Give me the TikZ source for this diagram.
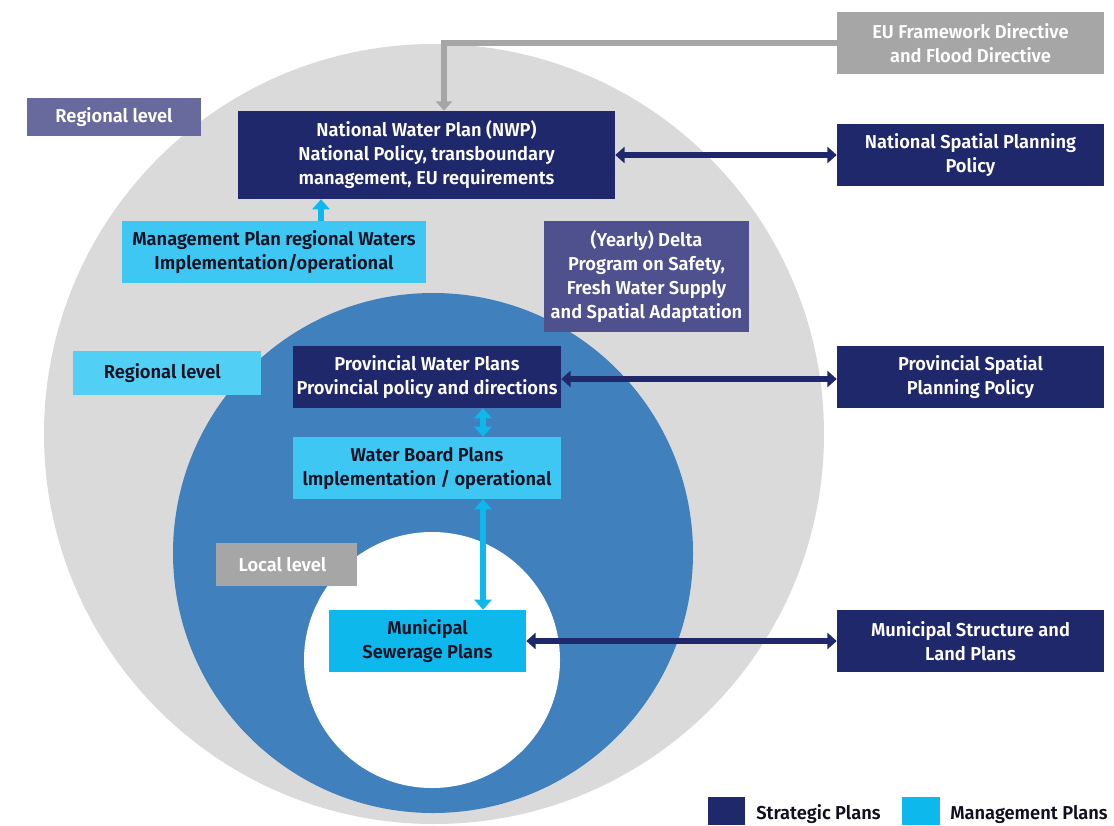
\documentclass[tikz,border=0pt]{standalone}
\usepackage{fontspec}
\newfontfamily\lab{Fira Sans SemiBold}[FakeStretch=0.98]
\usetikzlibrary{arrows.meta,calc}
\definecolor{navy}{RGB}{32,40,108}
\definecolor{circgray}{RGB}{218,218,218}
\definecolor{circblue}{RGB}{64,128,189}
\definecolor{lblue}{RGB}{61,199,242}
\definecolor{lblueb}{RGB}{82,207,244}
\definecolor{mblue}{RGB}{13,184,236}
\definecolor{purp}{RGB}{104,106,158}
\definecolor{delta}{RGB}{78,81,142}
\definecolor{boxgray}{RGB}{166,166,166}
\definecolor{darktxt}{RGB}{16,16,32}
\tikzset{
  box/.style={rectangle, inner sep=0pt, align=center,
    font=\lab\fontsize{14}{18}\selectfont},
  strat/.style={box, fill=navy, text=white},
  mgmt/.style={box, fill=lblue, text=darktxt},
  navyarrow/.style={draw=navy, line width=4.5pt,
    {Triangle[width=12pt,length=7pt]}-{Triangle[width=12pt,length=7pt]}},
  bluearrow/.style={draw=mblue, line width=4.5pt,
    {Triangle[width=12.75pt,length=7.5pt]}-{Triangle[width=12.75pt,length=7.5pt]}},
  bluearrowone/.style={draw=mblue, line width=4.5pt,
    -{Triangle[width=12.75pt,length=7.5pt]}},
  grayarrow/.style={draw=boxgray, line width=4.5pt,
    -{Triangle[width=12pt,length=7pt]}},
  legtxt/.style={anchor=base west, inner sep=0pt, text=darktxt,
    font=\lab\fontsize{14}{18}\selectfont}
}
\begin{document}
\begin{tikzpicture}[x=0.75pt,y=-0.75pt]
\useasboundingbox (0,0) rectangle (1114,825);
\fill[white] (0,0) rectangle (1114,825);
% circles
\fill[circgray] (434,434) circle[radius=390];
\fill[circblue] (433,553) circle[radius=260];
\fill[white] (432,660) circle[radius=128];
% boxes
\node[box, fill=boxgray, text=white, minimum width=200.25pt, minimum height=46.5pt] (EU) at (970.5,43) {EU Framework Directive\\and Flood Directive};
\node[strat, minimum width=200.25pt, minimum height=46.5pt] (NSP) at (970.5,155) {National Spatial Planning\\Policy};
\node[box, fill=purp, text=white, minimum width=130.5pt, minimum height=28.5pt] (R1) at (114,117) {Regional level};
\node[strat, minimum width=282.75pt, minimum height=66pt] (NWP) at (426.5,155) {National Water Plan (NWP)\\National Policy, transboundary\\management, EU requirements};
\node[mgmt, minimum width=228pt, minimum height=46.5pt] (MPR) at (274,252) {Management Plan regional Waters\\Implementation/operational};
\node[box, fill=delta, text=white, minimum width=153.75pt, minimum height=83.25pt] (DP) at (646.5,276.5) {(Yearly) Delta\\Program on Safety,\\Fresh Water Supply\\and Spatial Adaptation};
\node[box, fill=lblueb, text=darktxt, minimum width=141pt, minimum height=33pt] (R2) at (167,373) {Regional level\hspace*{7pt}};
\node[strat, minimum width=201pt, minimum height=46.5pt] (PWP) at (427,377) {Provincial Water Plans\\Provincial policy and directions};
\node[mgmt, minimum width=201pt, minimum height=46.5pt] (WBP) at (427,468) {Water Board Plans\\lmplementation / operational};
\node[box, fill=boxgray, text=white, minimum width=105.75pt, minimum height=32.25pt] (LL) at (286.5,564.5) {Local level\hspace*{6pt}};
\node[box, fill=mblue, text=darktxt, minimum width=147.75pt, minimum height=46.5pt] (MSP) at (427.5,641) {Municipal\\Sewerage Plans};
\node[strat, minimum width=200.25pt, minimum height=46.5pt] (PSP) at (970.5,377) {Provincial Spatial\\Planning Policy};
\node[strat, minimum width=200.25pt, minimum height=46.5pt] (MSL) at (970.5,641) {Municipal Structure and\\Land Plans};
% connectors
\draw[grayarrow] (EU.west) -| ($(NWP.north)+(17.5,0)$);
\draw[navyarrow] (NWP.east) -- (NSP.west);
\draw[navyarrow] ($(PWP.east)+(0,2)$) -- ($(PSP.west)+(0,2)$);
\draw[navyarrow] (MSP.east) -- (MSL.west);
\draw[bluearrowone] ($(MPR.north)+(47,0)$) -- ($(NWP.south)+(-105.5,0)$);
\draw[bluearrow] ($(PWP.south)+(56,0)$) -- ($(WBP.north)+(56,0)$);
\draw[bluearrow] ($(WBP.south)+(56,0)$) -- ($(MSP.north)+(55.5,0)$);
% legend
\node[rectangle, fill=navy, inner sep=0pt, minimum width=27.75pt, minimum height=21pt, anchor=north west] (LS) at (708,797) {};
\node[legtxt] (LST) at (756,819) {Strategic Plans};
\node[rectangle, fill=mblue, inner sep=0pt, minimum width=28.5pt, minimum height=21pt, anchor=north west] (LM) at (902,797) {};
\node[legtxt] (LMT) at (950,819) {Management Plans};
\end{tikzpicture}
\end{document}
